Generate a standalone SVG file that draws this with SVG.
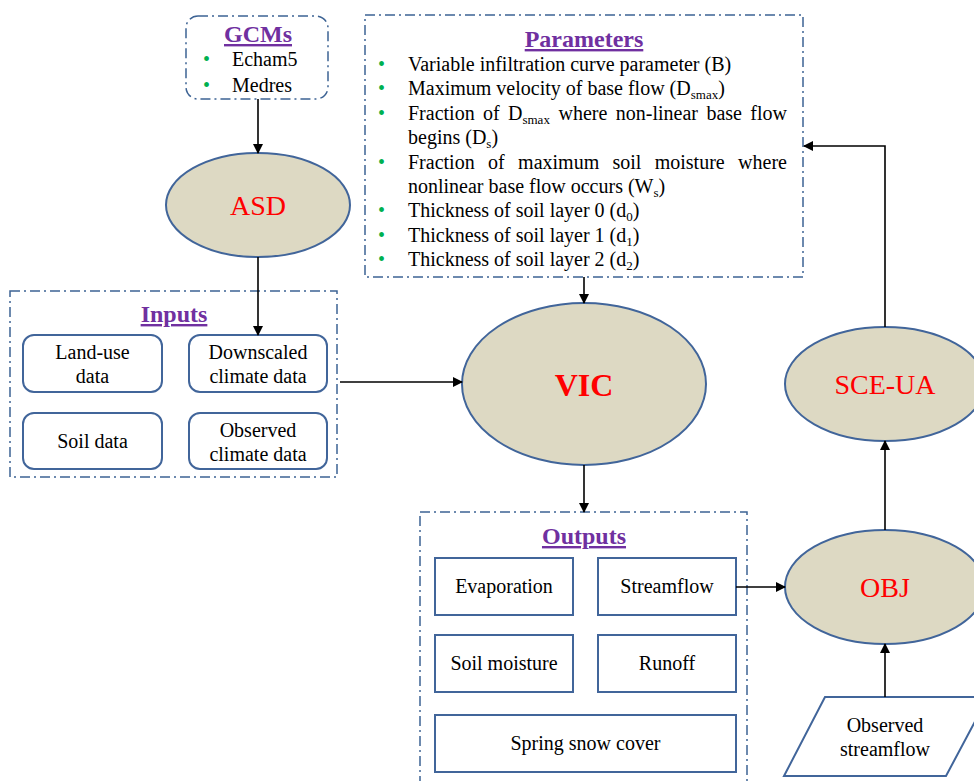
<svg xmlns="http://www.w3.org/2000/svg" width="974" height="781" viewBox="0 0 974 781">
<defs>
<marker id="ah" markerWidth="10" markerHeight="10" refX="9" refY="5" orient="auto" markerUnits="userSpaceOnUse">
<path d="M0,0 L10,5 L0,10 Z" fill="#000"/>
</marker>
<style>
text{font-family:"Liberation Serif","Times New Roman",serif;fill:#000}
.t{font-size:20px}
.c{text-anchor:middle}
.ttl{font-size:24px;font-weight:bold;fill:#7030a0;text-anchor:middle;text-decoration:underline}
.red{fill:#ff0000;font-size:28px;text-anchor:middle}
.bul{fill:#00b050;font-size:20px}
.cont{fill:#fff;stroke:#3d6394;stroke-width:1.5;stroke-dasharray:10 4 2 4}
.box{fill:#fff;stroke:#41659a;stroke-width:2}
.ell{fill:#ddd9c3;stroke:#41659a;stroke-width:2}
.con{fill:none;stroke:#000;stroke-width:1.6;marker-end:url(#ah)}
.sub{font-size:13px}
</style>
</defs>
<rect width="974" height="781" fill="#fff"/>

<g id="gcms">
<rect class="cont" x="186" y="16" width="142" height="83" rx="12"/>
<text class="ttl" x="258" y="42">GCMs</text>
<text class="bul" x="203" y="66">•</text>
<text class="t" x="232" y="66">Echam5</text>
<text class="bul" x="203" y="92">•</text>
<text class="t" x="232" y="92">Medres</text>
</g>

<g id="asd">
<ellipse class="ell" cx="258" cy="205" rx="92" ry="52"/>
<text class="red" x="258" y="215">ASD</text>
</g>

<g id="parameters">
<rect class="cont" x="365" y="15" width="438" height="262"/>
<text class="ttl" x="584" y="47">Parameters</text>
<text class="bul" x="378" y="71">•</text>
<text class="t" x="408" y="71">Variable infiltration curve parameter (B)</text>
<text class="bul" x="378" y="95.4">•</text>
<text class="t" x="408" y="95.4">Maximum velocity of base flow  (D<tspan class="sub" dy="4">smax</tspan><tspan dy="-4">)</tspan></text>
<text class="bul" x="378" y="119.8">•</text>
<text class="t" y="119.8"><tspan x="408">Fraction</tspan><tspan x="483">of</tspan><tspan x="508">D</tspan><tspan class="sub" dy="4">smax</tspan><tspan x="558.5" dy="-4">where</tspan><tspan x="615.8">non-linear</tspan><tspan x="706.4">base</tspan><tspan x="750.3">flow</tspan></text>
<text class="t" x="408" y="144.2">begins (D<tspan class="sub" dy="4">s</tspan><tspan dy="-4">)</tspan></text>
<text class="bul" x="378" y="168.6">•</text>
<text class="t" y="168.6"><tspan x="408">Fraction</tspan><tspan x="488">of</tspan><tspan x="518.1">maximum</tspan><tspan x="612.5">soil</tspan><tspan x="654.7">moisture</tspan><tspan x="738.1">where</tspan></text>
<text class="t" x="408" y="193">nonlinear base flow occurs (W<tspan class="sub" dy="4">s</tspan><tspan dy="-4">)</tspan></text>
<text class="bul" x="378" y="217.4">•</text>
<text class="t" x="408" y="217.4">Thickness of soil layer 0 (d<tspan class="sub" dy="4">0</tspan><tspan dy="-4">)</tspan></text>
<text class="bul" x="378" y="241.8">•</text>
<text class="t" x="408" y="241.8">Thickness of soil layer 1 (d<tspan class="sub" dy="4">1</tspan><tspan dy="-4">)</tspan></text>
<text class="bul" x="378" y="266.2">•</text>
<text class="t" x="408" y="266.2">Thickness of soil layer 2 (d<tspan class="sub" dy="4">2</tspan><tspan dy="-4">)</tspan></text>
</g>

<g id="inputs">
<rect class="cont" x="10" y="291" width="327" height="186"/>
<text class="ttl" x="174" y="322">Inputs</text>
<rect class="box" x="23" y="335" width="139" height="57" rx="11"/>
<text class="t c" x="92.5" y="359">Land-use</text>
<text class="t c" x="92.5" y="383">data</text>
<rect class="box" x="189" y="335" width="138" height="57" rx="11"/>
<text class="t c" x="258" y="359">Downscaled</text>
<text class="t c" x="258" y="383">climate data</text>
<rect class="box" x="23" y="413" width="139" height="56" rx="11"/>
<text class="t c" x="92.5" y="448">Soil data</text>
<rect class="box" x="189" y="413" width="138" height="56" rx="11"/>
<text class="t c" x="258" y="437">Observed</text>
<text class="t c" x="258" y="461">climate data</text>
</g>

<g id="vic">
<ellipse class="ell" cx="584" cy="384" rx="122" ry="81"/>
<text x="584" y="396" style="fill:#ff0000;font-size:32px;font-weight:bold;text-anchor:middle">VIC</text>
</g>

<g id="outputs">
<rect class="cont" x="420" y="512" width="327" height="280"/>
<text class="ttl" x="584" y="544">Outputs</text>
<rect class="box" x="435" y="558" width="138" height="57"/>
<text class="t c" x="504" y="593">Evaporation</text>
<rect class="box" x="598" y="558" width="138" height="57"/>
<text class="t c" x="667" y="593">Streamflow</text>
<rect class="box" x="435" y="635" width="138" height="57"/>
<text class="t c" x="504" y="670">Soil moisture</text>
<rect class="box" x="598" y="635" width="138" height="57"/>
<text class="t c" x="667" y="670">Runoff</text>
<rect class="box" x="435" y="715" width="301" height="57"/>
<text class="t c" x="585.5" y="750">Spring snow cover</text>
</g>

<g id="sceua">
<ellipse class="ell" cx="885" cy="384" rx="100" ry="57"/>
<text class="red" x="885" y="394">SCE-UA</text>
</g>

<g id="obj">
<ellipse class="ell" cx="885" cy="587" rx="100" ry="57"/>
<text class="red" x="885" y="597">OBJ</text>
</g>

<g id="observed-streamflow">
<polygon points="825,697 988,697 946,776 784,776" fill="#fff" stroke="#41659a" stroke-width="2"/>
<text class="t c" x="885" y="732">Observed</text>
<text class="t c" x="885" y="756">streamflow</text>
</g>

<g id="connectors">
<line class="con" x1="258" y1="99" x2="258" y2="153"/>
<line class="con" x1="258" y1="257" x2="258" y2="335"/>
<line class="con" x1="340" y1="382" x2="462" y2="382"/>
<line class="con" x1="584" y1="277" x2="584" y2="303"/>
<line class="con" x1="584" y1="465" x2="584" y2="512"/>
<line class="con" x1="736" y1="587" x2="785" y2="587"/>
<line class="con" x1="885" y1="530" x2="885" y2="441"/>
<line class="con" x1="885" y1="697" x2="885" y2="644"/>
<polyline class="con" points="885,327 885,146 804,146"/>
</g>
</svg>
